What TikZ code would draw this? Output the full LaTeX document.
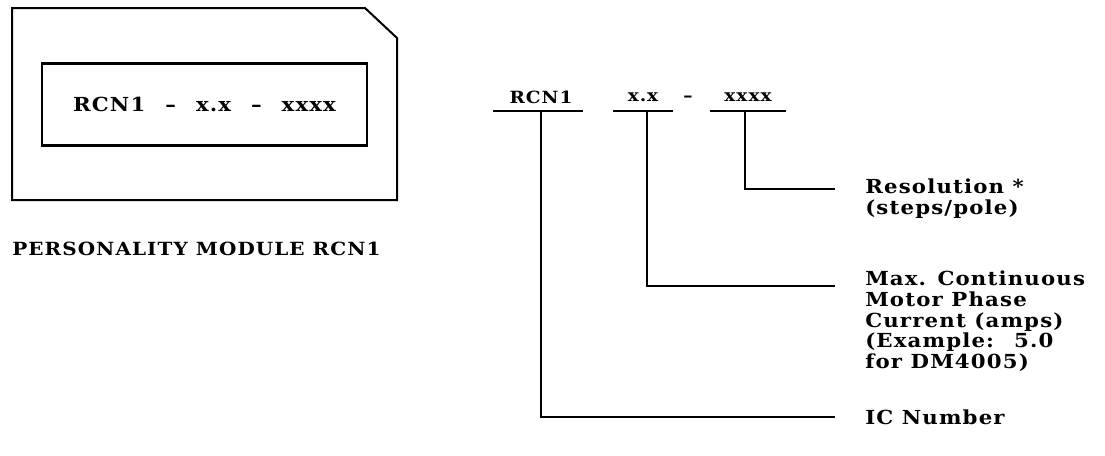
\documentclass[tikz,border=0pt]{standalone}
\usepackage{fontspec}
\setmainfont{DejaVu Serif}[FakeStretch=1.1, LetterSpace=6]
\usetikzlibrary{positioning,calc}
\begin{document}
\begin{tikzpicture}[
    x=0.75pt, y=-0.75pt,
    font=\bfseries\fontsize{14.5}{15.5}\selectfont,
    txt/.style={inner sep=0pt},
    lbl/.style={inner sep=0pt, font=\bfseries\fontsize{12.6}{15}\selectfont},
    desc/.style={inner sep=0pt, align=left, anchor=north west},
    frame/.style={line width=1.5pt, line join=miter},
    uline/.style={line width=2.2pt},
    lead/.style={line width=1.5pt}
]
\useasboundingbox (0,0) rectangle (1105,455);
\draw[frame] (12,8) -- (365,8) -- (397,38) -- (397,200) -- (12,200) -- cycle;
\node[draw, frame, line width=2.2pt, minimum width=243.75pt, minimum height=62pt] (code) at (204.5,104.5) {RCN1\hspace{15pt}--\hspace{15pt}x.x\hspace{15pt}--\hspace{15pt}xxxx};
\node[txt, anchor=west, font=\bfseries\fontsize{13.6}{15}\selectfont] (title) at (12,249) {PERSONALITY MODULE RCN1};

\node[lbl] (rcn) at (541,97) {RCN1};
\node[lbl] (amp) at (643,97) {x.x};
\node[lbl] (sep) at (688,99) {--};
\node[lbl] (res) at (748,97) {xxxx};
\draw[uline] (493,111) -- (583,111);
\draw[uline] (613,111) -- (673,111);
\draw[uline] (710,111) -- (786,111);
\coordinate (rcnU) at (541,111);
\coordinate (ampU) at (647,111);
\coordinate (resU) at (745,111);

\node[desc] (dres) at (865,179) {Resolution *\\(steps/pole)};
\node[desc] (damp) at (865,271) {Max. Continuous\\Motor Phase\\Current (amps)\\(Example: \ 5.0\\for DM4005)};
\node[txt, anchor=west] (dic) at (865,417) {IC Number};
\coordinate (resE) at (835,189);
\coordinate (ampE) at (835,286);
\coordinate (icE) at (835,417);

\draw[lead] (resU) |- (resE);
\draw[lead] (ampU) |- (ampE);
\draw[lead] (rcnU) |- (icE);
\end{tikzpicture}
\end{document}
